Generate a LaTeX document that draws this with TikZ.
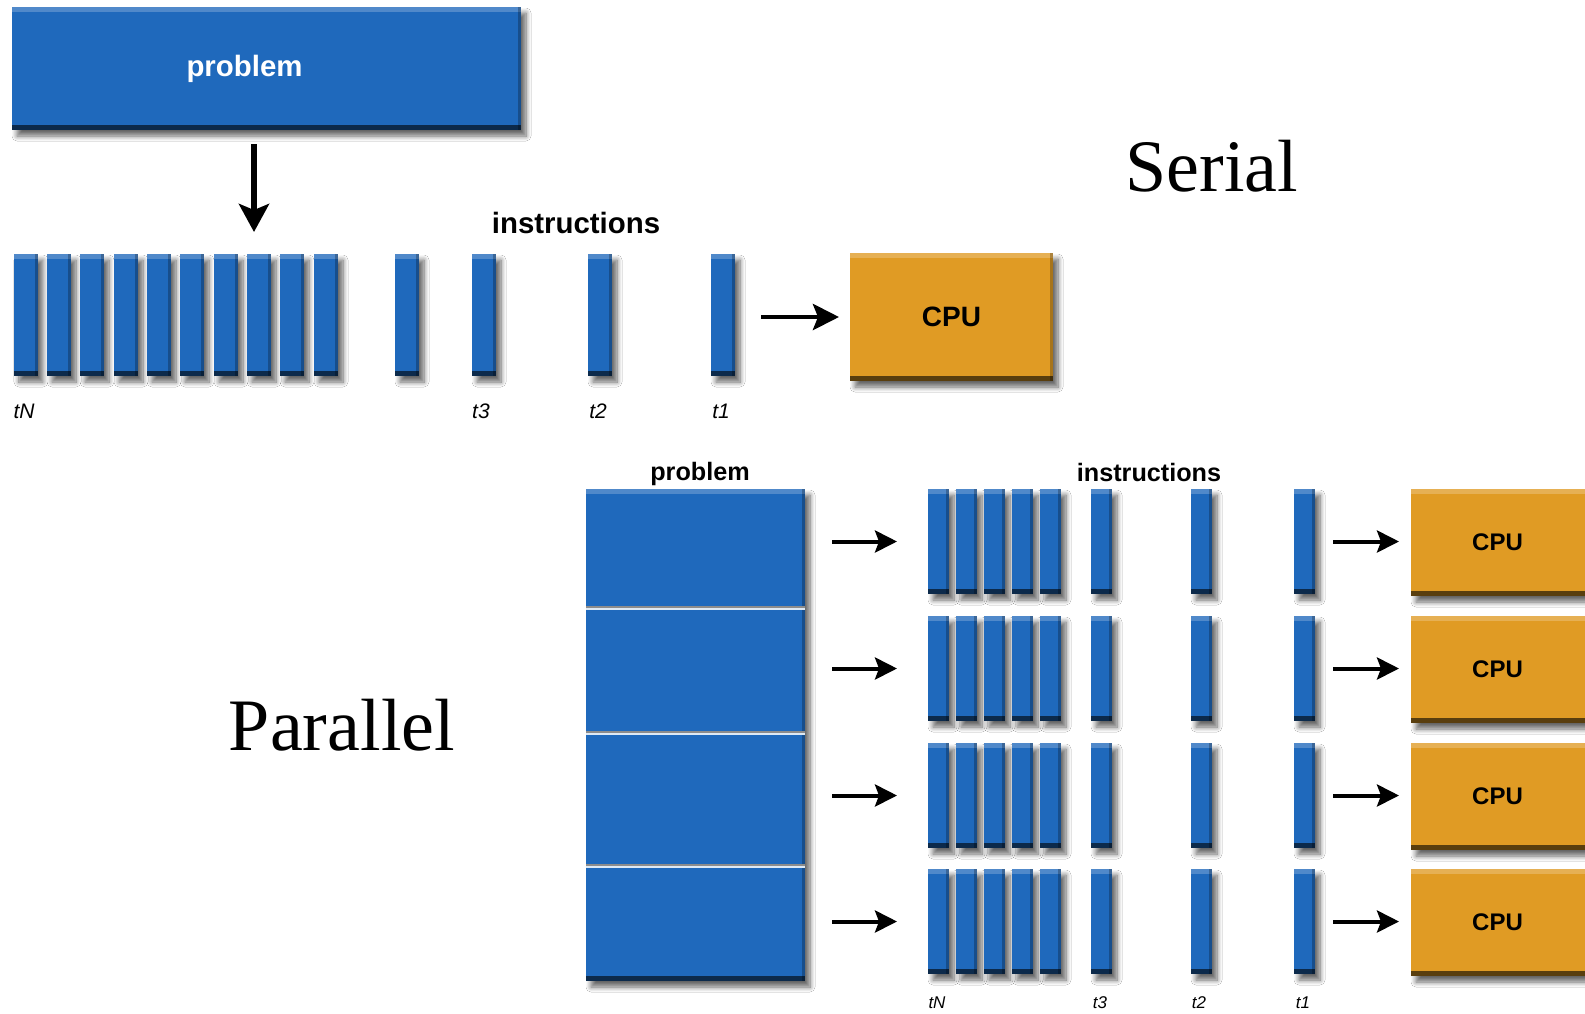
\documentclass[tikz,border=0pt]{standalone}
\usepackage{fontspec}
\setmainfont{Liberation Serif}
\setsansfont{Liberation Sans}
\usetikzlibrary{arrows.meta,shadows.blur}
\definecolor{pblue}{RGB}{31,105,188}
\definecolor{porange}{RGB}{224,155,36}
\tikzset{
  bevel/.style={draw=none, inner sep=0pt, outer sep=0pt, anchor=north west,
    blur shadow={shadow xshift=2.5pt, shadow yshift=-3pt, shadow blur steps=8, shadow opacity=60, shadow blur radius=2.5pt},
    path picture={
      \fill[white,opacity=0.22] (path picture bounding box.north west) rectangle ([yshift=-2.5pt]path picture bounding box.north east);
      \fill[black,opacity=0.6] (path picture bounding box.south west) rectangle ([yshift=2.5pt]path picture bounding box.south east);
      \fill[black,opacity=0.25] ([xshift=-1.5pt]path picture bounding box.north east) rectangle (path picture bounding box.south east);
    }},
  bluebox/.style={bevel, fill=pblue},
  cpubox/.style={bevel, fill=porange},
  lbl/.style={font=\sffamily\bfseries\fontsize{14.7}{16}\selectfont, inner sep=0pt},
  plbl/.style={font=\sffamily\bfseries\fontsize{12.6}{14}\selectfont, inner sep=0pt},
  tlbl/.style={font=\sffamily\itshape\fontsize{10.5}{12}\selectfont, inner sep=0pt},
  ptlbl/.style={font=\sffamily\itshape\fontsize{8.5}{10}\selectfont, inner sep=0pt},
  bigtxt/.style={font=\rmfamily\fontsize{37}{40}\selectfont, inner sep=0pt},
  bigarr/.style={line width=2.8pt, -{Stealth[length=14pt,width=15pt,inset=3pt]}},
  sarr/.style={line width=2.4pt, -{Stealth[length=13pt,width=13pt,inset=2.5pt]}},
  parr/.style={line width=2pt, -{Stealth[length=11pt,width=11pt,inset=2pt]}},
}
\begin{document}
\begin{tikzpicture}[x=0.5pt,y=-0.5pt]
\useasboundingbox (0,0) rectangle (1585,1013);
\fill[white] (0,0) rectangle (1585,1013);

% ---------- Serial ----------
\node[bluebox, minimum width=254.5pt, minimum height=61.5pt,
      font=\sffamily\bfseries\fontsize{14.7}{16}\selectfont, text=white] (sprob) at (12,7) {\hspace*{-22pt}problem};
\foreach \i/\x in {1/14,2/47,3/80,4/114,5/147,6/180,7/214,8/247,9/280,10/314,11/395,12/472,13/588,14/711}
  \node[bluebox, minimum width=12pt, minimum height=61pt] (s\i) at (\x,254) {};
\node[cpubox, minimum width=101.5pt, minimum height=64pt,
      font=\sffamily\bfseries\fontsize{14}{16}\selectfont] (scpu) at (850,253) {CPU};
\node[lbl, anchor=base] (sinstr) at (576,233) {instructions};
\node[tlbl] (stN) at (24,411) {tN};
\node[tlbl] (st3) at (481,411) {t3};
\node[tlbl] (st2) at (598,411) {t2};
\node[tlbl] (st1) at (721,411) {t1};
\node[bigtxt, anchor=base] (serial) at (1212,191) {Serial};

\draw[bigarr, shorten <=7pt, shorten >=11pt] ([xshift=-2.5pt]s8.north |- sprob.south) -- ([xshift=-2.5pt]s8.north);
\draw[sarr, shorten <=13pt, shorten >=5.5pt] (s14.east |- scpu.west) -- (scpu.west);

% ---------- Parallel ----------
\node[bigtxt, anchor=base] (parallel) at (342,750) {Parallel};
\node[plbl, anchor=base] (pprobl) at (700,480) {problem};
\node[plbl, anchor=base] (pinstr) at (1149,481) {instructions};
\node[bluebox, minimum width=109.5pt, minimum height=246pt] (pprob) at (586,489) {};
\foreach \yy in {607,732,865}{
  \draw[black!45, line width=0.6pt] (pprob.west |- 0,\yy) -- (pprob.east |- 0,\yy);
  \draw[white!85!pblue, line width=0.6pt] (pprob.west |- 0,\yy+2) -- (pprob.east |- 0,\yy+2);
}
\foreach \r/\y in {1/489,2/616,3/743,4/869}{
  \foreach \i/\x in {1/928,2/956,3/984,4/1012,5/1040,6/1091,7/1191,8/1294}
    \node[bluebox, minimum width=10.5pt, minimum height=52.5pt] (p\r-\i) at (\x,\y) {};
  \node[cpubox, minimum width=89.5pt, minimum height=53.5pt,
        font=\sffamily\bfseries\fontsize{12}{14}\selectfont] (pcpu\r) at (1411,\y) {\hspace*{-3pt}CPU};
  \draw[parr, shorten <=13.5pt, shorten >=15.5pt] (pprob.east |- p\r-1.west) -- (p\r-1.west);
  \draw[parr, shorten <=9pt, shorten >=6pt] (p\r-8.east) -- (pcpu\r.west |- p\r-8.east);
}
\node[ptlbl] (ptN) at (937,1003) {tN};
\node[ptlbl] (pt3) at (1100,1003) {t3};
\node[ptlbl] (pt2) at (1199,1003) {t2};
\node[ptlbl] (pt1) at (1303,1003) {t1};
\end{tikzpicture}
\end{document}
